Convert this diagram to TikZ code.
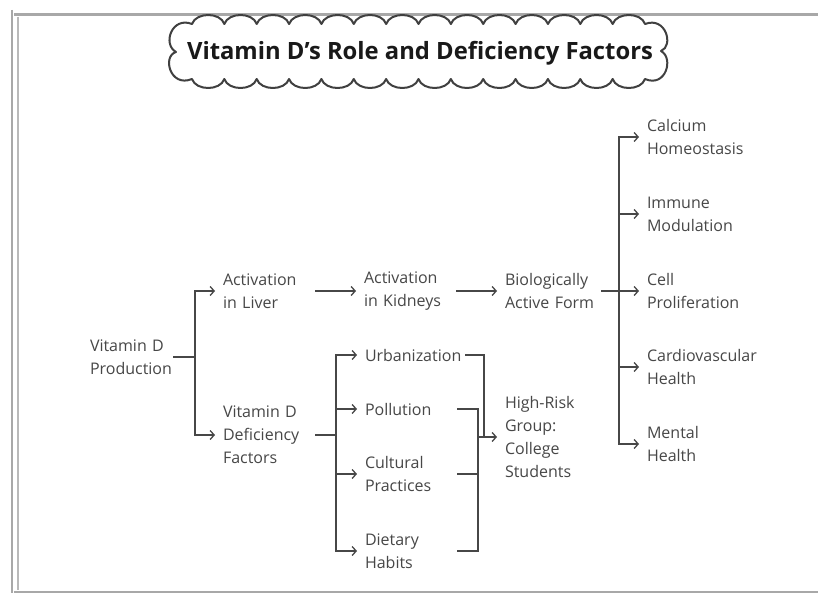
\documentclass[tikz,border=0pt]{standalone}
\usepackage{fontspec}
\setmainfont{Open Sans}
\usetikzlibrary{arrows.meta}
\definecolor{ink}{HTML}{474747}
\definecolor{framegray}{HTML}{A8A8A8}
\begin{document}
\begin{tikzpicture}[x=1pt,y=-1pt,
  lbl/.style={anchor=west, align=left, inner sep=0pt, outer xsep=8pt,
    text=ink, font=\fontsize{16}{23}\selectfont, text width=#1},
  lbl/.default=150pt,
  link/.style={draw=ink, line width=1.3pt},
  arr/.style={link, -{Straight Barb[length=4pt,width=9pt]}},
  cloud/.style={draw=black!75, line width=2pt, fill=white, line join=round}]
\useasboundingbox (0,0) rectangle (818,594);
\fill[white] (0,0) rectangle (818,594);

% page frame
\draw[framegray, line width=2.5pt] (12,10) -- (12,593);
\draw[framegray!80, line width=2pt] (18,17) -- (18,590);
\draw[framegray, line width=3pt] (14,15) -- (818,15);
\draw[framegray, line width=2.5pt] (14,592) -- (818,592);

% title cloud
\draw[cloud] (192,24)
  \foreach \k in {0,...,13} { .. controls ({192+32.36*\k+4},12) and ({192+32.36*(\k+1)-4},12) .. ({192+32.36*(\k+1)},24) }
  .. controls (666,16) and (674,46) .. (661,51)
  .. controls (674,58) and (666,88) .. (645,79)
  \foreach \k in {0,...,13} { .. controls ({645-32.36*\k-4},91) and ({645-32.36*(\k+1)+4},91) .. ({645-32.36*(\k+1)},79) }
  .. controls (170,88) and (162,56) .. (176,52)
  .. controls (162,44) and (172,16) .. (192,24) -- cycle;
\node[font=\fontsize{23.8}{28}\selectfont\bfseries, text=black!90] (title) at (420,53) {Vitamin D's Role and Deficiency Factors};

% nodes
\node[lbl=75pt] (prod)  at (82,357)  {Vitamin D\\Production};
\node[lbl=84pt] (liver) at (215,291) {Activation\\in Liver};
\node[lbl=84pt] (def)   at (215,435) {Vitamin D\\Deficiency\\Factors};
\node[lbl=84pt] (kid)   at (356,291) {Activation\\in Kidneys};
\node[lbl=88pt] (biol)  at (497,291) {Biologically\\\mbox{Active Form}};

\node[lbl] (calc)   at (639,137) {Calcium\\Homeostasis};
\node[lbl] (immune) at (639,214) {Immune\\Modulation};
\node[lbl] (cell)   at (639,291) {Cell\\Proliferation};
\node[lbl] (cardio) at (639,367) {Cardiovascular\\Health};
\node[lbl] (mental) at (639,444) {Mental\\Health};

\node[lbl=92pt] (urb)  at (357,355) {Urbanization};
\node[lbl=84pt] (poll) at (357,409) {Pollution};
\node[lbl=84pt] (cult) at (357,474) {Cultural\\Practices};
\node[lbl=84pt] (diet) at (357,551) {Dietary\\Habits};
\node[lbl=80pt] (high) at (497,437) {High-Risk\\Group:\\College\\Students};

% junction points
\coordinate (j1) at (195,357);
\coordinate (j2) at (336,435);
\coordinate (j3) at (619,291);
\coordinate (mb) at (478,0);
\coordinate (mu) at (484,0);

% production branch
\draw[link] (prod.east) -- (j1);
\draw[arr] (j1) |- (liver.west);
\draw[arr] (j1) |- (def.west);

% activation chain
\draw[arr] (liver.east) -- (kid.west);
\draw[arr] (kid.east) -- (biol.west);
\draw[link] (biol.east) -- (j3);
\draw[arr] (j3) |- (calc.west);
\draw[arr] (j3) |- (immune.west);
\draw[arr] (j3) -- (cell.west);
\draw[arr] (j3) |- (cardio.west);
\draw[arr] (j3) |- (mental.west);

% deficiency factors
\draw[link] (def.east) -- (j2);
\draw[arr] (j2) |- (urb.west);
\draw[arr] (j2) |- (poll.west);
\draw[arr] (j2) |- (cult.west);
\draw[arr] (j2) |- (diet.west);

% merge into the high-risk group
\draw[link] (urb.east) -- (urb.east -| mu) -- (high.west -| mu);
\draw[link] (poll.east) -| (mb |- diet.east) -- (diet.east);
\draw[link] (cult.east) -- (cult.east -| mb);
\draw[arr] (high.west -| mb) -- (high.west);
\end{tikzpicture}
\end{document}
